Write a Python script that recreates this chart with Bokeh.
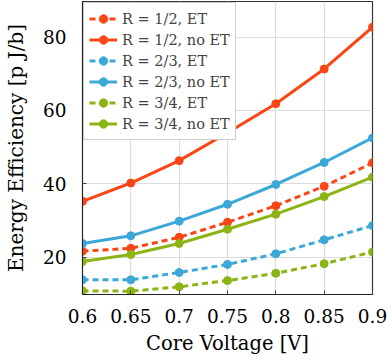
from bokeh.plotting import figure
from bokeh.models import FixedTicker, Legend, LegendItem, Range1d
from bokeh.embed import file_html
from bokeh.resources import INLINE

voltage = [0.6, 0.65, 0.7, 0.75, 0.8, 0.85, 0.9]
r12_et = [21.6, 22.4, 25.4, 29.5, 34.0, 39.3, 45.7]
r12_noet = [35.2, 40.2, 46.3, 53.9, 61.8, 71.3, 82.7]
r23_et = [13.8, 13.8, 15.8, 18.0, 20.9, 24.7, 28.6]
r23_noet = [23.7, 25.8, 29.8, 34.4, 39.8, 45.8, 52.5]
r34_et = [10.8, 10.7, 11.9, 13.6, 15.6, 18.2, 21.4]
r34_noet = [18.8, 20.7, 23.7, 27.6, 31.7, 36.5, 41.8]

x_ticks = [0.6, 0.65, 0.7, 0.75, 0.8, 0.85, 0.9]
x_tick_labels = ["0.6", "0.65", "0.7", "0.75", "0.8", "0.85", "0.9"]
y_ticks = [20, 40, 60, 80]

labels = ["R = 1/2, ET", "R = 1/2, no ET", "R = 2/3, ET", "R = 2/3, no ET",
          "R = 3/4, ET", "R = 3/4, no ET"]

RED = "#FA4616"
BLUE = "#3CA8D8"
GREEN = "#8CB414"
FONT = "DejaVu Serif"

p = figure(width=388, height=360, output_backend="svg", toolbar_location=None,
           x_range=Range1d(0.6, 0.9), y_range=Range1d(9.8, 89.7),
           min_border_left=77, min_border_right=16, min_border_top=1,
           min_border_bottom=66)

p.outline_line_color = "#333333"
p.outline_line_width = 1.2
p.background_fill_color = "white"
p.border_fill_color = "white"

p.xgrid.grid_line_color = "#DCDCDC"
p.ygrid.grid_line_color = "#DCDCDC"
p.xgrid.grid_line_width = 1.2
p.ygrid.grid_line_width = 1.2

p.xaxis.ticker = FixedTicker(ticks=x_ticks)
p.xaxis.major_label_overrides = {t: l for t, l in zip(x_ticks, x_tick_labels)}
p.yaxis.ticker = FixedTicker(ticks=y_ticks)
p.xaxis.minor_tick_line_color = None
p.yaxis.minor_tick_line_color = None
for ax in (p.xaxis[0], p.yaxis[0]):
    ax.axis_line_color = "#222222"
    ax.major_tick_line_color = "#444444"
    ax.major_tick_in = 4
    ax.major_tick_out = 0
    ax.major_label_text_font = FONT
    ax.major_label_text_font_size = "18.5px"
    ax.major_label_text_color = "black"
    ax.axis_label_text_font = FONT
    ax.axis_label_text_font_style = "normal"
    ax.axis_label_text_color = "black"
p.xaxis.axis_label_text_font_size = "19.5px"
p.yaxis.axis_label_text_font_size = "20px"
p.xaxis.major_label_standoff = 14
p.yaxis.major_label_standoff = 16
p.xaxis.axis_label = "Core Voltage [V]"
p.yaxis.axis_label = "Energy Efficiency [p J/b]"
p.xaxis.axis_label_standoff = 6
p.yaxis.axis_label_standoff = 12

series = [
    (r12_et, RED, "dashed"),
    (r12_noet, RED, "solid"),
    (r23_et, BLUE, "dashed"),
    (r23_noet, BLUE, "solid"),
    (r34_et, GREEN, "dashed"),
    (r34_noet, GREEN, "solid"),
]

items = []
for (vals, col, dash), lab in zip(series, labels):
    ld = "6 4" if dash == "dashed" else "solid"
    ln = p.line(voltage, vals, line_color=col, line_width=3, line_dash=ld)
    sc = p.scatter(voltage, vals, size=8, fill_color=col, line_color=col)
    items.append(LegendItem(label=lab, renderers=[ln, sc]))

legend = Legend(items=items, location="top_left")
legend.label_text_font = FONT
legend.label_text_font_size = "14.5px"
legend.label_text_font_style = "normal"
legend.border_line_color = "#999999"
legend.border_line_width = 1
legend.background_fill_alpha = 1.0
legend.margin = 1
legend.padding = 5
legend.spacing = 0
legend.glyph_width = 28
legend.glyph_height = 21
legend.label_height = 21
legend.label_standoff = 5
p.add_layout(legend)

open("out.html", "w").write(file_html(p, INLINE))
